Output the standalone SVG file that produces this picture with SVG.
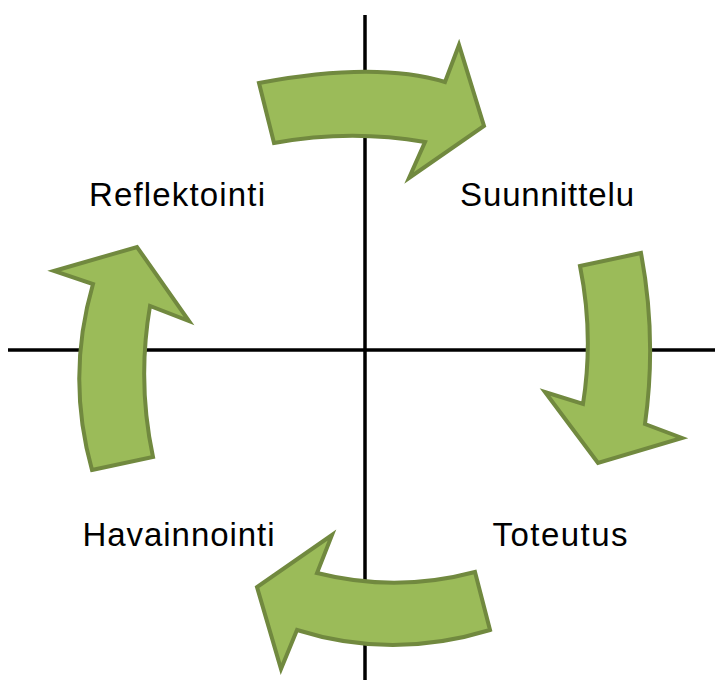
<svg xmlns="http://www.w3.org/2000/svg" width="715" height="680" viewBox="0 0 715 680">
<style>
.axis{stroke:#000;stroke-width:3.5;fill:none}
.arr{fill:#9BBB59;stroke:#71893F;stroke-width:4;stroke-linejoin:miter}
.lbl{font-family:"Liberation Sans",Arial,sans-serif;font-size:33px;fill:#000}
</style>
<rect width="715" height="680" fill="#fff"/>
<g id="connectors">
<line class="axis" x1="365" y1="15" x2="365" y2="680"/>
<line class="axis" x1="8" y1="350" x2="715" y2="350"/>
</g>
<g id="arrow-top">
<path class="arr" d="M259,83 Q376,61 445,82 L459,45 L484,126 L409,178 L425,142 Q350,129 274,143 Z"/>
</g>
<g id="arrow-right">
<path class="arr" d="M580,266 L641,253 Q657,338 645,424 L682,438 L598,463 L545,392 L583,404 Q594,335 580,266 Z"/>
</g>
<g id="arrow-bottom">
<path class="arr" d="M475,572 L490,630 Q392,660 297,630 L281,669 L257,587 L332,535 L317,573 Q396,593 475,572 Z"/>
</g>
<g id="arrow-left">
<path class="arr" d="M92,470 L153,457 Q137,382 150,306 L189,321 L137,247 L54,271 L93,284 Q66,377 92,470 Z"/>
</g>
<g id="node-reflektointi"><text class="lbl" x="89" y="206" textLength="176" lengthAdjust="spacing">Reflektointi</text></g>
<g id="node-suunnittelu"><text class="lbl" x="460" y="206" textLength="174" lengthAdjust="spacing">Suunnittelu</text></g>
<g id="node-havainnointi"><text class="lbl" x="82.5" y="546" textLength="192" lengthAdjust="spacing">Havainnointi</text></g>
<g id="node-toteutus"><text class="lbl" x="492.5" y="546" textLength="135" lengthAdjust="spacing">Toteutus</text></g>
</svg>
